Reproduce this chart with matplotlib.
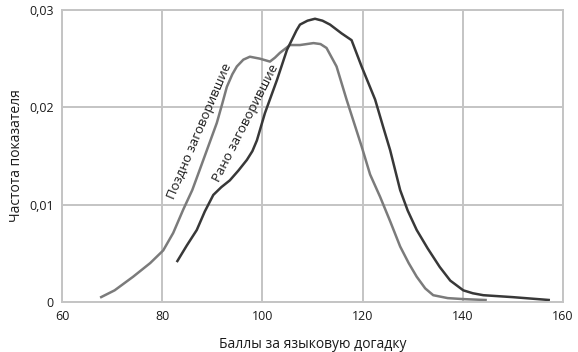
import matplotlib.pyplot as plt

plt.rcParams['font.family'] = ['Open Sans', 'DejaVu Sans']

# late talkers (grey curve)
late_x = [67.6, 70.5, 74.2, 77.6, 80.2, 82.2, 84.2, 86.0, 87.5, 89.2, 90.9, 92.0,
          92.9, 94.0, 94.9, 96.2, 97.5, 99.5, 101.5, 102.5, 103.5, 105.5, 107.5,
          110.2, 111.6, 112.8, 114.8, 116.8, 119.8, 121.5, 123.5, 125.5, 127.5,
          129.2, 130.8, 132.5, 134.1, 137.0, 140.1, 144.8]
late_y = [0.00045, 0.0012, 0.0026, 0.0040, 0.0053, 0.0071, 0.0095, 0.0115, 0.0136,
          0.0160, 0.0184, 0.0204, 0.0221, 0.0234, 0.0242, 0.0249, 0.0252, 0.0250,
          0.0247, 0.0251, 0.0256, 0.0264, 0.0264, 0.0266, 0.0265, 0.0261, 0.0242,
          0.0208, 0.0160, 0.0131, 0.0108, 0.0083, 0.0057, 0.0040, 0.0026, 0.0014,
          0.0007, 0.0004, 0.0003, 0.0002]

# early talkers (dark curve)
early_x = [82.9, 84.9, 86.9, 88.5, 90.2, 91.8, 93.5, 95.2, 96.9, 98.0, 98.9,
           99.7, 100.5, 101.7, 102.9, 104.9, 106.8, 107.5, 109.0, 110.5, 112.0,
           113.5, 115.8, 117.8, 119.8, 122.5, 124.1, 125.5, 127.5, 129.0, 130.8,
           133.0, 135.4, 137.5, 140.1, 142.0, 144.1, 150.0, 157.4]
early_y = [0.0041, 0.0058, 0.0074, 0.0093, 0.0110, 0.0118, 0.0125, 0.0135, 0.0146,
           0.0155, 0.0166, 0.0180, 0.0194, 0.0211, 0.0228, 0.0259, 0.0279, 0.0285,
           0.0289, 0.0291, 0.0289, 0.0285, 0.0276, 0.0269, 0.0242, 0.0208, 0.0180,
           0.0156, 0.0115, 0.0094, 0.0074, 0.0055, 0.0036, 0.0022, 0.0012, 0.0009,
           0.0007, 0.0005, 0.0002]

x_ticks = [60, 80, 100, 120, 140, 160]
y_ticks = [0, 0.01, 0.02, 0.03]
y_labels = ['0', '0,01', '0,02', '0,03']

fig = plt.figure(figsize=(5.78, 3.52), dpi=100)
ax = fig.add_axes([0.1073, 0.142, 0.8667, 0.8296])

grid_col = '#c4c4c4'
ax.set_xlim(60, 160)
ax.set_ylim(0, 0.03)
ax.set_xticks(x_ticks)
ax.set_yticks(y_ticks)
ax.set_yticklabels(y_labels)
ax.grid(True, color=grid_col, linewidth=1.4)
ax.set_axisbelow(True)
for s in ax.spines.values():
    s.set_color(grid_col)
    s.set_linewidth(1.4)
ax.tick_params(length=0, labelsize=9, pad=6, colors='#1a1a1a')

ax.plot(late_x, late_y, color='#7b7b7b', linewidth=1.8, solid_capstyle='butt')
ax.plot(early_x, early_y, color='#383838', linewidth=1.8, solid_capstyle='butt')

ax.text(87.5, 0.0176, 'Поздно заговорившие', rotation=67, ha='center', va='center',
        fontsize=9.5, color='#1a1a1a', rotation_mode='anchor')
ax.text(96.7, 0.0184, 'Рано заговорившие', rotation=63, ha='center', va='center',
        fontsize=9.5, color='#1a1a1a', rotation_mode='anchor')

ax.set_xlabel('Баллы за языковую догадку', fontsize=10, labelpad=10, color='#1a1a1a')
ax.set_ylabel('Частота показателя', fontsize=10, labelpad=4, color='#1a1a1a')

fig.savefig('out.png', dpi=100)
